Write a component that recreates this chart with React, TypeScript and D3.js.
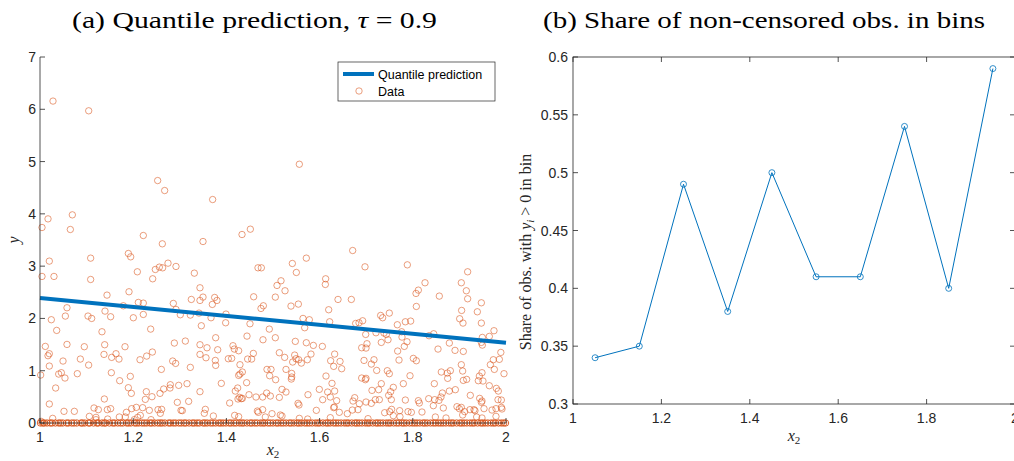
import * as d3 from "d3";

const W = 1014;
const H = 461;

// panel (a): fitted 0.9-quantile line, endpoints at x2 = 1 and x2 = 2
const predX = [1, 2];
const predY = [2.39, 1.535];

// panel (a): uncensored observations [x2, y]
const obs: [number, number][] = [
  [1.0279, 6.157], [1.1045, 5.971], [1.5565, 4.949], [1.2525, 4.637], [1.2675, 4.446], [1.3705, 4.274],
  [1.0694, 3.981], [1.0172, 3.904], [1.0043, 3.739], [1.0651, 3.701], [1.2217, 3.586], [1.2625, 3.427],
  [1.4335, 3.605], [1.4514, 3.707], [1.3498, 3.471], [1.671, 3.299], [1.5715, 3.153], [1.5415, 3.051],
  [1.02, 3.096], [1.1087, 3.153], [1.1896, 3.242], [1.1946, 3.178], [1.0043, 2.803], [1.03, 2.803],
  [1.1087, 2.745], [1.2089, 2.892], [1.2418, 2.758], [1.2475, 2.936], [1.2561, 2.981], [1.2632, 2.968],
  [1.2747, 3.057], [1.2918, 2.994], [1.3312, 2.866], [1.5501, 2.879], [1.4678, 2.968], [1.475, 2.968],
  [1.6974, 2.987], [1.7883, 3.025], [1.9177, 2.892], [1.8262, 2.682], [1.9041, 2.682], [1.9149, 2.529],
  [1.9177, 2.376], [1.8069, 2.478], [1.8119, 2.541], [1.8569, 2.427], [1.8076, 2.229], [1.9471, 2.299],
  [1.1438, 2.446], [1.191, 2.51], [1.0579, 2.204], [1.0544, 2.045], [1.0243, 1.975], [1.103, 2.045],
  [1.1109, 2.0], [1.1395, 2.14], [1.1516, 2.032], [1.1788, 2.242], [1.2003, 2.013], [1.211, 2.306],
  [1.2217, 2.293], [1.2217, 2.076], [1.2861, 2.287], [1.2918, 2.172], [1.3011, 2.07], [1.3247, 2.363],
  [1.3226, 2.064], [1.3433, 2.586], [1.3433, 2.344], [1.3498, 2.408], [1.3748, 2.401], [1.3798, 2.344],
  [1.3698, 2.268], [1.4585, 2.414], [1.4742, 2.191], [1.4793, 2.242], [1.505, 2.408], [1.5086, 2.631],
  [1.5172, 2.72], [1.5258, 2.529], [1.5386, 2.236], [1.5544, 2.274], [1.613, 2.758], [1.6123, 2.65],
  [1.6395, 2.363], [1.6681, 2.363], [1.6195, 2.166], [1.6216, 1.936], [1.6774, 1.904], [1.3412, 2.102],
  [1.3462, 1.86], [1.367, 2.013], [1.3984, 1.917], [1.3991, 2.083], [1.4506, 1.898], [1.4921, 1.796],
  [1.5644, 2.0], [1.578, 1.975], [1.568, 1.822], [1.9048, 2.153], [1.9385, 2.127], [1.9006, 1.994],
  [1.9077, 1.911], [1.9471, 1.911], [1.731, 2.057], [1.7353, 2.013], [1.7496, 2.102], [1.6846, 1.917],
  [1.6924, 1.955], [1.7668, 1.879], [1.784, 1.936], [1.7954, 1.949], [1.9742, 1.765], [1.9642, 1.656],
  [1.0358, 1.771], [1.2375, 1.796], [1.133, 1.745], [1.0114, 1.465], [1.02, 1.325], [1.0172, 1.287],
  [1.0579, 1.503], [1.0951, 1.459], [1.1388, 1.497], [1.1824, 1.459], [1.1373, 1.312], [1.1538, 1.255],
  [1.1631, 1.325], [1.1695, 1.223], [1.0494, 1.185], [1.0866, 1.223], [1.1044, 1.108], [1.2146, 1.21],
  [1.2289, 1.28], [1.2411, 1.357], [1.2883, 1.529], [1.3119, 1.567], [1.2847, 1.185], [1.2911, 1.14],
  [1.4442, 1.662], [1.4785, 1.592], [1.505, 1.631], [1.377, 1.631], [1.3433, 1.497], [1.3584, 1.439],
  [1.3813, 1.401], [1.3433, 1.312], [1.3562, 1.248], [1.4141, 1.478], [1.417, 1.414], [1.4263, 1.382],
  [1.4578, 1.331], [1.4041, 1.229], [1.4113, 1.236], [1.4456, 1.223], [1.4542, 1.223], [1.3762, 1.197],
  [1.377, 1.102], [1.4291, 1.115], [1.5479, 1.561], [1.5715, 1.535], [1.5866, 1.484], [1.6059, 1.465],
  [1.5136, 1.344], [1.525, 1.255], [1.5465, 1.299], [1.5494, 1.229], [1.5422, 1.166], [1.5551, 1.21],
  [1.5608, 1.146], [1.5737, 1.21], [1.5815, 1.318], [1.6323, 1.318], [1.6237, 1.191], [1.6302, 1.083],
  [1.6438, 1.178], [1.6474, 1.038], [1.9492, 1.637], [1.9492, 1.49], [1.9471, 1.541], [1.6989, 1.694],
  [1.721, 1.726], [1.7382, 1.72], [1.7432, 1.694], [1.7761, 1.745], [1.7768, 1.643], [1.8348, 1.669],
  [1.8448, 1.707], [1.7324, 1.541], [1.7468, 1.592], [1.7876, 1.554], [1.7818, 1.465], [1.8784, 1.529],
  [1.6903, 1.439], [1.6996, 1.433], [1.7017, 1.516], [1.7675, 1.376], [1.8541, 1.414], [1.8906, 1.389],
  [1.9084, 1.369], [1.9889, 1.35], [1.6953, 1.197], [1.7167, 1.21], [1.711, 1.127], [1.7704, 1.204],
  [1.8011, 1.236], [1.8076, 1.191], [1.9041, 1.115], [1.907, 0.994], [1.9728, 1.21], [1.9857, 1.217],
  [1.9664, 1.115], [1.975, 1.025], [1.02, 1.089], [1.2604, 1.025], [1.3226, 1.064], [1.0014, 0.917],
  [1.0401, 0.936], [1.0458, 0.962], [1.0536, 0.86], [1.0801, 0.943], [1.1531, 0.962], [1.1938, 0.892],
  [1.171, 0.809], [1.0336, 0.669], [1.1896, 0.675], [1.196, 0.567], [1.2282, 0.599], [1.226, 0.452],
  [1.2403, 0.503], [1.2654, 0.65], [1.2575, 0.567], [1.2797, 0.732], [1.279, 0.669], [1.2976, 0.72],
  [1.3155, 0.752], [1.4291, 0.936], [1.4342, 0.975], [1.4263, 0.911], [1.4434, 0.771], [1.3891, 0.758],
  [1.4871, 1.025], [1.4957, 1.025], [1.4928, 0.904], [1.5057, 0.828], [1.5279, 1.025], [1.5401, 0.949],
  [1.5393, 0.841], [1.5401, 0.879], [1.6137, 0.898], [1.6266, 0.758], [1.7225, 1.006], [1.7453, 1.0],
  [1.7496, 0.943], [1.794, 0.904], [1.8612, 0.975], [1.8741, 0.955], [1.8806, 1.0], [1.8748, 0.854],
  [1.9084, 0.815], [1.9156, 0.834], [1.9485, 0.962], [1.9428, 0.898], [1.9506, 0.803], [1.9406, 0.809],
  [1.9957, 0.943], [1.6903, 0.86], [1.6982, 0.828], [1.6996, 0.854], [1.7324, 0.752], [1.7797, 0.752],
  [1.8462, 0.752], [1.8913, 0.637], [1.9642, 0.713], [1.9793, 0.662], [1.9835, 0.611], [1.99, 0.439],
  [1.9828, 0.446], [1.7124, 0.624], [1.7267, 0.637], [1.7525, 0.599], [1.7482, 0.529], [1.7539, 0.446],
  [1.7582, 0.682], [1.8634, 0.573], [1.8784, 0.611], [1.8469, 0.446], [1.8562, 0.433], [1.8605, 0.497],
  [1.8341, 0.465], [1.9234, 0.529], [1.9435, 0.471], [1.9485, 0.42], [1.9471, 0.395], [1.6996, 0.401],
  [1.711, 0.376], [1.7196, 0.446], [1.7282, 0.446], [1.6853, 0.369], [1.6824, 0.255], [1.784, 0.439],
  [1.8119, 0.427], [1.814, 0.382], [1.8441, 0.331], [1.8655, 0.287], [1.3433, 0.599], [1.4191, 0.611],
  [1.4242, 0.669], [1.432, 0.465], [1.4342, 0.471], [1.4249, 0.459], [1.4284, 0.49], [1.407, 0.382],
  [1.4485, 0.541], [1.4635, 0.497], [1.4778, 0.497], [1.4864, 0.573], [1.4943, 0.516], [1.5136, 0.49],
  [1.5193, 0.643], [1.5279, 0.592], [1.5537, 0.376], [1.5558, 0.344], [1.5751, 0.541], [1.5994, 0.643],
  [1.6066, 0.446], [1.6173, 0.592], [1.623, 0.497], [1.6323, 0.611], [1.6366, 0.427], [1.6302, 0.293],
  [1.6316, 0.306], [1.593, 0.242], [1.6423, 0.204], [1.6595, 0.178], [1.6717, 0.42], [1.6753, 0.484],
  [1.6702, 0.248], [1.02, 0.363], [1.0515, 0.223], [1.0737, 0.223], [1.1381, 0.459], [1.1159, 0.287],
  [1.1252, 0.255], [1.1445, 0.255], [1.1516, 0.274], [1.1853, 0.204], [1.1967, 0.274], [1.2067, 0.299],
  [1.2203, 0.293], [1.2346, 0.242], [1.2532, 0.255], [1.2611, 0.261], [1.2582, 0.185], [1.2947, 0.395],
  [1.3026, 0.242], [1.3054, 0.236], [1.319, 0.414], [1.4778, 0.255], [1.4664, 0.229], [1.4685, 0.204],
  [1.4979, 0.178], [1.5157, 0.153], [1.5193, 0.134], [1.3548, 0.261], [1.3526, 0.185], [1.372, 0.134],
  [1.7546, 0.261], [1.7504, 0.217], [1.7718, 0.236], [1.7897, 0.217], [1.7969, 0.204], [1.8197, 0.21],
  [1.8948, 0.312], [1.9041, 0.299], [1.8999, 0.274], [1.9227, 0.255], [1.9313, 0.255], [1.9334, 0.236],
  [1.9113, 0.217], [1.907, 0.153], [1.97, 0.248], [1.9785, 0.274], [1.99, 0.299], [1.9914, 0.268],
  [1.9528, 0.274], [1.7396, 0.197], [1.7582, 0.14], [1.7725, 0.121], [1.1059, 0.127], [1.1202, 0.108],
  [1.1702, 0.115], [1.1831, 0.115], [1.2153, 0.146], [1.2096, 0.108], [1.0272, 0.089], [1.0021, 0.032],
  [1.1202, 0.064], [1.1452, 0.076], [1.2024, 0.064], [1.2382, 0.064], [1.4177, 0.146], [1.4263, 0.121],
  [1.4835, 0.115], [1.5565, 0.089], [1.5744, 0.076], [1.623, 0.102], [1.8484, 0.115], [1.8713, 0.096],
  [1.937, 0.115], [1.9485, 0.096], [1.9785, 0.127], [1.7039, 0.083],
];

// panel (a): censored observations, y = 0
const censoredX = [
  1.001, 1.006, 1.009, 1.015, 1.022, 1.026, 1.033, 1.04, 1.044, 1.049, 1.057, 1.061, 1.068, 1.073,
  1.079, 1.088, 1.091, 1.096, 1.104, 1.107, 1.115, 1.122, 1.125, 1.133, 1.138, 1.141, 1.149, 1.156,
  1.16, 1.167, 1.173, 1.178, 1.186, 1.19, 1.195, 1.203, 1.207, 1.212, 1.219, 1.224, 1.229, 1.236,
  1.24, 1.246, 1.253, 1.258, 1.262, 1.268, 1.276, 1.28, 1.286, 1.291, 1.298, 1.303, 1.309, 1.313,
  1.32, 1.327, 1.331, 1.337, 1.342, 1.35, 1.354, 1.359, 1.366, 1.371, 1.377, 1.384, 1.388, 1.393,
  1.399, 1.406, 1.41, 1.416, 1.421, 1.428, 1.433, 1.437, 1.444, 1.451, 1.455, 1.461, 1.466, 1.473,
  1.478, 1.482, 1.489, 1.494, 1.5, 1.507, 1.511, 1.517, 1.522, 1.528, 1.535, 1.539, 1.545, 1.552,
  1.556, 1.561, 1.568, 1.573, 1.578, 1.584, 1.591, 1.596, 1.6, 1.607, 1.614, 1.618, 1.623, 1.63,
  1.635, 1.64, 1.646, 1.653, 1.658, 1.662, 1.669, 1.676, 1.68, 1.685, 1.691, 1.698, 1.703, 1.707,
  1.714, 1.721, 1.725, 1.73, 1.736, 1.743, 1.748, 1.752, 1.759, 1.765, 1.77, 1.777, 1.781, 1.786,
  1.793, 1.799, 1.804, 1.809, 1.815, 1.822, 1.826, 1.831, 1.838, 1.844, 1.849, 1.855, 1.86, 1.865,
  1.871, 1.878, 1.883, 1.887, 1.894, 1.901, 1.905, 1.91, 1.916, 1.923, 1.928, 1.932, 1.939, 1.946,
  1.95, 1.955, 1.961, 1.968, 1.973, 1.977, 1.984, 1.99, 1.995, 1.999,
];

// panel (b): bin centres and share with y_i > 0
const binX = [1.05, 1.15, 1.25, 1.35, 1.45, 1.55, 1.65, 1.75, 1.85, 1.95];
const binShare = [0.34, 0.35, 0.49, 0.38, 0.5, 0.41, 0.41, 0.54, 0.4, 0.59];

const xTicks = [1, 1.2, 1.4, 1.6, 1.8, 2];
const yTicksA = [0, 1, 2, 3, 4, 5, 6, 7];
const yTicksB = [0.3, 0.35, 0.4, 0.45, 0.5, 0.55, 0.6];

const blue = "#0072BD";
const orange = "#D95319";
const axisCol = "#262626";
const sans = "'Liberation Sans', Arial, sans-serif";
const serif = "'Liberation Serif', 'Times New Roman', serif";
const tickLen = 5;

export default function App() {
  const xa = d3.scaleLinear().domain([1, 2]).range([40, 506]);
  const ya = d3.scaleLinear().domain([0, 7]).range([423, 57]);
  const xb = d3.scaleLinear().domain([1, 2]).range([573, 1015]);
  const yb = d3.scaleLinear().domain([0.3, 0.6]).range([404, 57]);

  const predLine = d3
    .line<number>()
    .x((d, i) => xa(predX[i]))
    .y((d) => ya(d));

  const shareLine = d3
    .line<number>()
    .x((d, i) => xb(binX[i]))
    .y((d) => yb(d));

  const fmt = (v: number) => d3.format("~g")(v);

  return (
    <svg
      width={W}
      height={H}
      style={{ position: "absolute", left: 0, top: 0, background: "#fff" }}
    >
      {/* ---------- panel (a) ---------- */}
      <text
        x={72}
        y={28}
        fontFamily={serif}
        fontSize={24}
        textLength={365}
        lengthAdjust="spacingAndGlyphs"
        fill="#000"
      >
        (a) Quantile prediction, <tspan fontStyle="italic">τ</tspan> = 0.9
      </text>

      {censoredX.map((x, i) => (
        <circle key={"c" + i} cx={xa(x)} cy={ya(0)} r={3.2} fill="none" stroke={orange} strokeWidth={0.9} />
      ))}
      {obs.map((d, i) => (
        <circle key={"o" + i} cx={xa(d[0])} cy={ya(d[1])} r={3.2} fill="none" stroke={orange} strokeWidth={0.7} opacity={0.8} />
      ))}
      <path d={predLine(predY) || ""} fill="none" stroke={blue} strokeWidth={4} />

      {/* axes */}
      <line x1={xa(1)} x2={xa(1)} y1={ya(0)} y2={ya(7)} stroke={axisCol} strokeWidth={0.8} />
      <line x1={xa(1)} x2={xa(2)} y1={ya(0)} y2={ya(0)} stroke={axisCol} strokeWidth={0.8} />
      {yTicksA.map((t) => (
        <g key={"ya" + t}>
          <line x1={xa(1)} x2={xa(1) + tickLen} y1={ya(t)} y2={ya(t)} stroke={axisCol} strokeWidth={0.8} />
          <text x={xa(1) - 4} y={ya(t) + 5} fontFamily={sans} fontSize={14} textAnchor="end" fill={axisCol}>
            {fmt(t)}
          </text>
        </g>
      ))}
      {xTicks.map((t) => (
        <g key={"xa" + t}>
          <line x1={xa(t)} x2={xa(t)} y1={ya(0)} y2={ya(0) - tickLen} stroke={axisCol} strokeWidth={0.8} />
          <text x={xa(t)} y={ya(0) + 19} fontFamily={sans} fontSize={14} textAnchor="middle" fill={axisCol}>
            {fmt(t)}
          </text>
        </g>
      ))}
      <text x={273} y={455} fontFamily={serif} fontSize={16} fontStyle="italic" textAnchor="middle" fill={axisCol}>
        x<tspan fontSize={11} dy={3} fontStyle="normal">2</tspan>
      </text>
      <text
        transform={`translate(19,${(ya(0) + ya(7)) / 2}) rotate(-90)`}
        fontFamily={serif}
        fontSize={16}
        fontStyle="italic"
        textAnchor="middle"
        fill={axisCol}
      >
        y
      </text>

      {/* legend */}
      <rect x={338} y={62} width={157} height={39} fill="#fff" stroke={axisCol} strokeWidth={0.7} />
      <line x1={343} x2={374} y1={74} y2={74} stroke={blue} strokeWidth={4} />
      <text x={378} y={78.5} fontFamily={sans} fontSize={12.5} fill="#000">
        Quantile prediction
      </text>
      <circle cx={359} cy={91} r={3.2} fill="none" stroke={orange} strokeWidth={0.7} opacity={0.8} />
      <text x={378} y={95.5} fontFamily={sans} fontSize={12.5} fill="#000">
        Data
      </text>

      {/* ---------- panel (b) ---------- */}
      <text
        x={543}
        y={28}
        fontFamily={serif}
        fontSize={24}
        textLength={442}
        lengthAdjust="spacingAndGlyphs"
        fill="#000"
      >
        (b) Share of non-censored obs. in bins
      </text>

      <rect x={xb(1)} y={yb(0.6)} width={xb(2) - xb(1)} height={yb(0.3) - yb(0.6)} fill="none" stroke={axisCol} strokeWidth={0.8} />
      {yTicksB.map((t) => (
        <g key={"yb" + t}>
          <line x1={xb(1)} x2={xb(1) + tickLen} y1={yb(t)} y2={yb(t)} stroke={axisCol} strokeWidth={0.8} />
          <line x1={xb(2)} x2={xb(2) - tickLen} y1={yb(t)} y2={yb(t)} stroke={axisCol} strokeWidth={0.8} />
          <text x={xb(1) - 5} y={yb(t) + 5} fontFamily={sans} fontSize={14} textAnchor="end" fill={axisCol}>
            {fmt(t)}
          </text>
        </g>
      ))}
      {xTicks.map((t) => (
        <g key={"xb" + t}>
          <line x1={xb(t)} x2={xb(t)} y1={yb(0.3)} y2={yb(0.3) - tickLen} stroke={axisCol} strokeWidth={0.8} />
          <line x1={xb(t)} x2={xb(t)} y1={yb(0.6)} y2={yb(0.6) + tickLen} stroke={axisCol} strokeWidth={0.8} />
          <text x={xb(t)} y={yb(0.3) + 19} fontFamily={sans} fontSize={14} textAnchor="middle" fill={axisCol}>
            {fmt(t)}
          </text>
        </g>
      ))}

      <path d={shareLine(binShare) || ""} fill="none" stroke={blue} strokeWidth={1} />
      {binShare.map((v, i) => (
        <circle key={"b" + i} cx={xb(binX[i])} cy={yb(v)} r={3} fill="none" stroke={blue} strokeWidth={0.8} />
      ))}

      <text x={794} y={441} fontFamily={serif} fontSize={16} fontStyle="italic" textAnchor="middle" fill={axisCol}>
        x<tspan fontSize={11} dy={3} fontStyle="normal">2</tspan>
      </text>
      <text
        transform={`translate(531,252) rotate(-90)`}
        fontFamily={serif}
        fontSize={16}
        textAnchor="middle"
        fill={axisCol}
      >
        Share of obs. with <tspan fontStyle="italic">y</tspan>
        <tspan fontStyle="italic" fontSize={11} dy={3}>i</tspan>
        <tspan dy={-3}> &gt; 0 in bin</tspan>
      </text>
    </svg>
  );
}
